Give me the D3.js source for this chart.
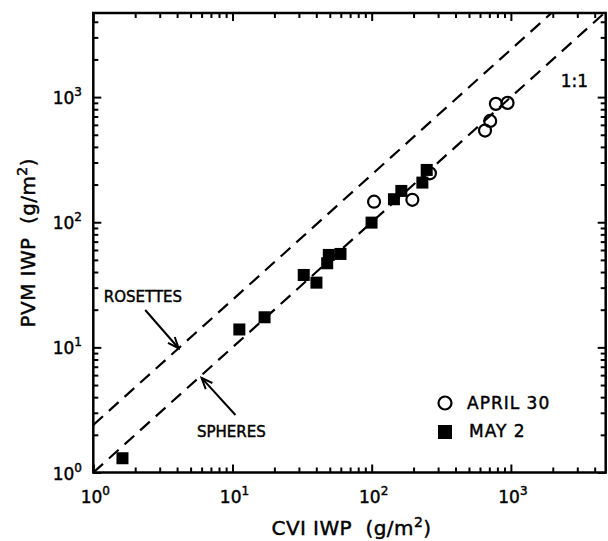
<!DOCTYPE html>
<html>
<head>
<meta charset="utf-8">
<script src="https://cdn.jsdelivr.net/npm/d3@7"></script>
<style>
  body { margin: 0; background: #fff; }
  text { font-family: "DejaVu Sans", sans-serif; fill: #000; stroke: #000; stroke-width: 0.45px; }
</style>
</head>
<body>
<script>
// data
var aprilX = [104, 196, 262, 652, 710, 780, 946];
var aprilY = [146, 151, 246, 540, 645, 883, 899];
var mayX = [1.62, 11.2, 17.0, 32.5, 40.1, 47.9, 49.2, 59.7, 99.8, 144.5, 163.3, 231.3, 248.5];
var mayY = [1.30, 13.9, 17.4, 37.9, 32.9, 47.0, 54.8, 55.8, 99.3, 152.7, 177.9, 207.4, 261.8];
var majorTicks = [1, 10, 100, 1000];
var tickExp = ['0', '1', '2', '3'];
var lineRatios = [1, 2.4]; // spheres (1:1), rosettes

var width = 608, height = 541;
var pLeft = 93.3, pRight = 605.7, pTop = 13, pBottom = 472.5;

var svg = d3.select('body')
    .append('svg')
    .attr('width', width)
    .attr('height', height);

var xScale = d3.scaleLog().domain([1, 4800]).range([pLeft, pRight]);
var yScale = d3.scaleLog().domain([1, 4700]).range([pBottom, pTop]);

// minor ticks 2..9 in every decade
function minors(max) {
    var out = [];
    for (var d = 1; d < max; d *= 10)
        for (var k = 2; k <= 9; k++)
            if (d * k < max) out.push(d * k);
    return out;
}
var xMinor = minors(4800), yMinor = minors(4700);

// axes, ticks pointing inward on all sides
var sides = [
    [d3.axisBottom, xScale, xMinor, 'translate(0,' + pBottom + ')'],
    [d3.axisTop, xScale, xMinor, 'translate(0,' + pTop + ')'],
    [d3.axisLeft, yScale, yMinor, 'translate(' + pLeft + ',0)'],
    [d3.axisRight, yScale, yMinor, 'translate(' + pRight + ',0)']
];
sides.forEach(function(s) {
    [[s[2], -5], [majorTicks, -8]].forEach(function(t) {
        var g = svg.append('g')
            .attr('transform', s[3])
            .call(s[0](s[1]).tickValues(t[0]).tickSize(t[1]).tickFormat(''));
        g.select('.domain').remove();
        g.selectAll('line').attr('stroke', '#000').attr('stroke-width', 2);
    });
});

// frame
svg.append('rect')
    .attr('x', pLeft).attr('y', pTop)
    .attr('width', pRight - pLeft).attr('height', pBottom - pTop)
    .attr('fill', 'none')
    .attr('stroke', '#000')
    .attr('stroke-width', 2.5);

// tick labels
majorTicks.forEach(function(v, i) {
    var t = svg.append('text')
        .attr('x', xScale(v) + 2)
        .attr('y', 503)
        .attr('text-anchor', 'middle')
        .style('font-size', '17px');
    t.append('tspan').text('10');
    t.append('tspan').attr('dy', -8).style('font-size', '12px').text(tickExp[i]);

    var t2 = svg.append('text')
        .attr('x', 82)
        .attr('y', yScale(v) + 7)
        .attr('text-anchor', 'end')
        .style('font-size', '17px');
    t2.append('tspan').text('10');
    t2.append('tspan').attr('dy', -8).style('font-size', '12px').text(tickExp[i]);
});

// axis titles
var xt = svg.append('text')
    .attr('x', (pLeft + pRight) / 2 + 2)
    .attr('y', 535)
    .attr('text-anchor', 'middle')
    .style('font-size', '20px')
    .style('letter-spacing', '0.4px')
    .style('white-space', 'pre');
xt.append('tspan').text('CVI IWP  (g/m');
xt.append('tspan').attr('dy', -8).style('font-size', '14px').text('2');
xt.append('tspan').attr('dy', 8).text(')');

var yt = svg.append('text')
    .attr('transform', 'translate(35,' + ((pTop + pBottom) / 2) + ') rotate(-90)')
    .attr('text-anchor', 'middle')
    .style('font-size', '20px')
    .style('letter-spacing', '0.4px')
    .style('white-space', 'pre');
yt.append('tspan').text('PVM IWP  (g/m');
yt.append('tspan').attr('dy', -8).style('font-size', '14px').text('2');
yt.append('tspan').attr('dy', 8).text(')');

// clip
svg.append('clipPath').attr('id', 'clip')
    .append('rect')
    .attr('x', pLeft).attr('y', pTop)
    .attr('width', pRight - pLeft).attr('height', pBottom - pTop);

// dashed reference lines
var lineGen = d3.line()
    .x(function(d) { return xScale(d[0]); })
    .y(function(d) { return yScale(d[1]); });

lineRatios.forEach(function(k) {
    svg.append('path')
        .datum([[1, k], [4800, 4800 * k]])
        .attr('clip-path', 'url(#clip)')
        .attr('d', lineGen)
        .attr('fill', 'none')
        .attr('stroke', '#000')
        .attr('stroke-width', 2.2)
        .attr('stroke-dasharray', '13,8');
});

svg.append('text')
    .attr('x', 588).attr('y', 87)
    .attr('text-anchor', 'end')
    .style('font-size', '17px')
    .text('1:1');

// arrows
svg.append('defs').append('marker')
    .attr('id', 'arrow')
    .attr('markerUnits', 'userSpaceOnUse')
    .attr('viewBox', '-12 -6 14 12')
    .attr('refX', 0).attr('refY', 0)
    .attr('markerWidth', 14).attr('markerHeight', 12)
    .attr('orient', 'auto')
    .append('path')
    .attr('d', 'M-11,-4.5L0,0L-11,4.5')
    .attr('fill', 'none')
    .attr('stroke', '#000')
    .attr('stroke-width', 2);

var notes = [
    { label: 'ROSETTES', tail: [2.36, 19.9], tip: [4.1, 9.84], at: [1.19, 23.1] },
    { label: 'SPHERES', tail: [10.5, 2.88], tip: [6.0, 5.7], at: [5.56, 1.92] }
];
notes.forEach(function(n) {
    svg.append('line')
        .attr('x1', xScale(n.tail[0])).attr('y1', yScale(n.tail[1]))
        .attr('x2', xScale(n.tip[0])).attr('y2', yScale(n.tip[1]))
        .attr('stroke', '#000')
        .attr('stroke-width', 2)
        .attr('marker-end', 'url(#arrow)');
    svg.append('text')
        .attr('x', xScale(n.at[0])).attr('y', yScale(n.at[1]))
        .style('font-size', '15px')
        .text(n.label);
});

// points
var april = aprilX.map(function(x, i) { return { x: x, y: aprilY[i] }; });
var may = mayX.map(function(x, i) { return { x: x, y: mayY[i] }; });

svg.selectAll('.apr')
    .data(april)
    .enter().append('circle')
    .attr('class', 'apr')
    .attr('cx', d => xScale(d.x))
    .attr('cy', d => yScale(d.y))
    .attr('r', 6)
    .attr('fill', 'none')
    .attr('stroke', '#000')
    .attr('stroke-width', 2.2);

svg.selectAll('.may')
    .data(may)
    .enter().append('rect')
    .attr('class', 'may')
    .attr('x', d => xScale(d.x) - 6)
    .attr('y', d => yScale(d.y) - 6)
    .attr('width', 12)
    .attr('height', 12)
    .attr('fill', '#000');

// legend
svg.append('circle')
    .attr('cx', 445).attr('cy', 403)
    .attr('r', 6.5)
    .attr('fill', 'none')
    .attr('stroke', '#000')
    .attr('stroke-width', 2.2);
svg.append('rect')
    .attr('x', 438).attr('y', 425)
    .attr('width', 14).attr('height', 14)
    .attr('fill', '#000');
svg.append('text')
    .attr('x', 467).attr('y', 409)
    .style('font-size', '17px')
    .style('letter-spacing', '1px')
    .text('APRIL 30');
svg.append('text')
    .attr('x', 469).attr('y', 437)
    .style('font-size', '17px')
    .style('letter-spacing', '1px')
    .text('MAY 2');
</script>
</body>
</html>
